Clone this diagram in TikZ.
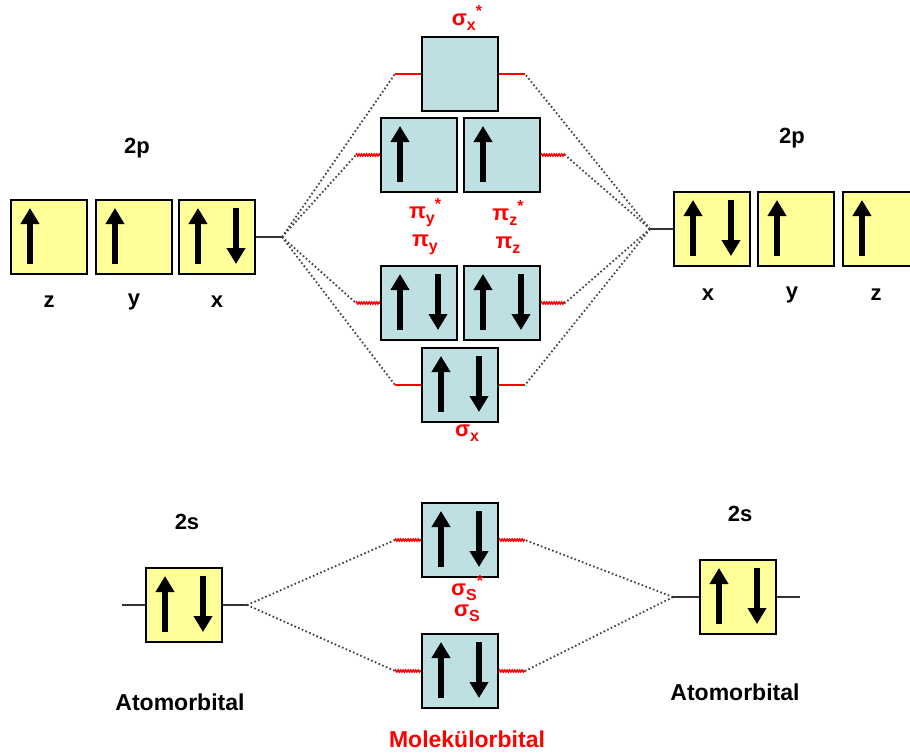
\documentclass[tikz,border=0pt]{standalone}
\usepackage{fontspec}
\setmainfont{Liberation Sans}
\usetikzlibrary{arrows.meta,calc,decorations.pathmorphing}

\definecolor{aofill}{RGB}{255,255,153}
\definecolor{mofill}{RGB}{190,224,226}
\definecolor{lblred}{RGB}{255,0,0}

\newcommand\loidx[1]{\raisebox{-5pt}{\fontsize{16}{18}\selectfont #1}}
\newcommand\upidx[1]{\raisebox{9pt}{\fontsize{16}{18}\selectfont #1}}

\tikzset{
  box/.style={draw=black, line width=2pt, minimum width=76pt, minimum height=74pt, inner sep=0pt},
  ao/.style={box, fill=aofill},
  mo/.style={box, fill=mofill},
  spin/.style={line width=6.5pt, -{Triangle[width=18pt,length=16pt]}},
  lbl/.style={font=\bfseries\fontsize{22}{26}\selectfont},
  biglbl/.style={font=\bfseries\fontsize{23}{27}\selectfont},
  redlbl/.style={lbl, text=lblred},
  aoline/.style={line width=1.6pt, black!80},
  moline/.style={line width=1.6pt, lblred},
  mowavy/.style={moline, decorate, decoration={zigzag, amplitude=0.9pt, segment length=2.5pt}},
  link/.style={line width=1.8pt, black!75, dash pattern=on 1.6pt off 2.4pt},
}

\begin{document}
\begin{tikzpicture}[x=1pt, y=-1pt]

\newcommand\spinup[1]{\draw[spin] ($(#1.west)+(20,27)$) -- ++(0,-56);}
\newcommand\spindown[1]{\draw[spin] ($(#1.west)+(58,-29)$) -- ++(0,56);}
\newcommand\spinpair[1]{\spinup{#1}\spindown{#1}}

\useasboundingbox (0,0) rectangle (910,753);
\fill[white] (0,0) rectangle (910,753);

% atomic orbitals, left
\node[ao] (pz) at (49,237) {};
\node[ao] (py) at (134,237) {};
\node[ao] (px) at (217,237) {};
\node[ao] (sl) at (184,605) {};
% atomic orbitals, right
\node[ao] (qx) at (712,229) {};
\node[ao] (qy) at (796,229) {};
\node[ao] (qz) at (881,229) {};
\node[ao] (sr) at (738,597) {};

% molecular orbitals
\node[mo] (sxa) at (460,74) {};
\node[mo] (pya) at (419,155) {};
\node[mo] (pza) at (502,155) {};
\node[mo] (pyb) at (419,303) {};
\node[mo] (pzb) at (502,303) {};
\node[mo] (sxb) at (460,385) {};
\node[mo] (ssa) at (460,540) {};
\node[mo] (ssb) at (460,671) {};

% electrons
\spinup{pz} \spinup{py} \spinpair{px}
\spinpair{qx} \spinup{qy} \spinup{qz}
\spinpair{sl} \spinpair{sr}
\spinup{pya} \spinup{pza}
\spinpair{pyb} \spinpair{pzb} \spinpair{sxb}
\spinpair{ssa} \spinpair{ssb}

% level ends
\coordinate (jl) at (282,237);
\coordinate (jr) at (650,229);
\coordinate (kl) at (247,605);
\coordinate (kr) at (673,597);
\coordinate (sl0) at (122,605);
\coordinate (sr0) at (800,597);
\foreach \m/\d in {sxa/26, sxb/26, ssa/26, ssb/26, pya/24, pyb/24} {
  \coordinate (\m L) at ($(\m.west)+(-\d,0)$);
}
\foreach \m/\d in {sxa/26, sxb/26, ssa/26, ssb/26, pza/24, pzb/24} {
  \coordinate (\m R) at ($(\m.east)+(\d,0)$);
}

\draw[aoline] (px) -- (jl);
\draw[aoline] (jr) -- (qx);
\draw[aoline] (sl0) -- (sl) -- (kl);
\draw[aoline] (kr) -- (sr) -- (sr0);

\draw[moline] (sxaL) -- (sxa) -- (sxaR);
\draw[moline] (sxbL) -- (sxb) -- (sxbR);
\draw[mowavy] (pyaL) -- (pya);
\draw[mowavy] (pza) -- (pzaR);
\draw[mowavy] (pybL) -- (pyb);
\draw[mowavy] (pzb) -- (pzbR);
\draw[mowavy] (ssaL) -- (ssa);
\draw[mowavy] (ssa) -- (ssaR);
\draw[mowavy] (ssbL) -- (ssb);
\draw[mowavy] (ssb) -- (ssbR);

% correlation lines
\foreach \e in {sxaL, pyaL, pybL, sxbL} \draw[link] (jl) -- (\e);
\foreach \e in {sxaR, pzaR, pzbR, sxbR} \draw[link] (jr) -- (\e);
\foreach \e in {ssaL, ssbL} \draw[link] (kl) -- (\e);
\foreach \e in {ssaR, ssbR} \draw[link] (kr) -- (\e);

% labels
\node[lbl] (t2pl) at (137,148) {2p};
\node[lbl] (t2pr) at (792,138) {2p};
\node[lbl] (tz) at (49,302) {z};
\node[lbl] (ty) at (134,302) {y};
\node[lbl] (tx) at (217,302) {x};
\node[lbl] (ux) at (708,295) {x};
\node[lbl] (uy) at (792,295) {y};
\node[lbl] (uz) at (876,295) {z};
\node[lbl] (t2sl) at (187,522) {2s};
\node[lbl] (t2sr) at (740,514) {2s};
\node[biglbl] (tal) at (180,702) {Atomorbital};
\node[biglbl] (tar) at (735,692) {Atomorbital};
\node[biglbl, text=lblred] (tmo) at (467,739) {Molekülorbital};

\node[redlbl] (lsxa) at (467,18) {σ\loidx{x}\upidx{*}};
\node[redlbl] (lpya) at (425,213) {π\loidx{y}\upidx{*}};
\node[redlbl] (lpza) at (508,213) {π\loidx{z}\upidx{*}};
\node[redlbl] (lpyb) at (425,245) {π\loidx{y}};
\node[redlbl] (lpzb) at (508,245) {π\loidx{z}};
\node[redlbl] (lsxb) at (467,433) {σ\loidx{x}};
\node[redlbl] (lssa) at (467,588) {σ\loidx{S}\upidx{*}};
\node[redlbl] (lssb) at (467,613) {σ\loidx{S}};

\end{tikzpicture}
\end{document}
